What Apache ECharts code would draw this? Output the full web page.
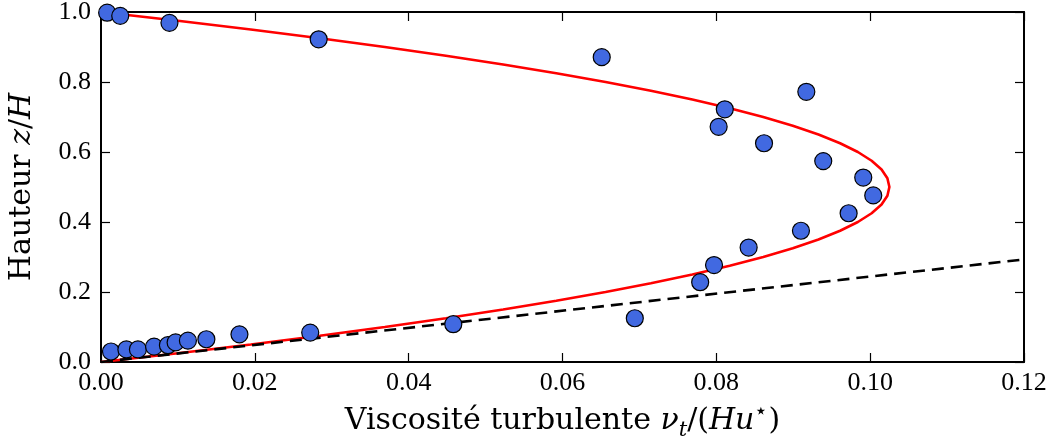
<!DOCTYPE html>
<html>
<head>
<meta charset="utf-8">
<script src="https://cdn.jsdelivr.net/npm/echarts@6/dist/echarts.min.js"></script>
<style>
html,body{margin:0;padding:0;background:#fff;}
#c{width:1051px;height:443px;}
</style>
</head>
<body>
<div id="c"></div>
<script>
// Measured points (nu_t/(H u*), z/H)
const measNu = [0.0008,0.0025,0.0089,0.0283,0.0651,0.0811,0.0803,0.0917,0.0862,0.0939,0.0991,0.1004,0.0972,0.0910,0.0842,0.0797,0.0779,0.0694,0.0458,0.0013,0.0033,0.0048,0.0069,0.0087,0.0097,0.0113,0.0137,0.0180,0.0272];
const measZ  = [0.998,0.989,0.969,0.922,0.871,0.722,0.672,0.772,0.625,0.574,0.527,0.476,0.425,0.375,0.327,0.277,0.228,0.125,0.108,0.030,0.036,0.036,0.044,0.048,0.056,0.061,0.065,0.079,0.084];

// Red parabolic profile, read along z/H
const curveZ  = [0,0.025,0.05,0.075,0.1,0.125,0.15,0.175,0.2,0.225,0.25,0.275,0.3,0.325,0.35,0.375,0.4,0.425,0.45,0.475,0.5,0.525,0.55,0.575,0.6,0.625,0.65,0.675,0.7,0.725,0.75,0.775,0.8,0.825,0.85,0.875,0.9,0.925,0.95,0.975,1.0];
const curveNu = [0,0.00999,0.01948,0.02844,0.0369,0.04484,0.05228,0.05919,0.0656,0.07149,0.07688,0.08174,0.0861,0.08994,0.09328,0.09609,0.0984,0.10019,0.10148,0.10224,0.1025,0.10224,0.10148,0.10019,0.0984,0.09609,0.09328,0.08994,0.0861,0.08174,0.07688,0.07149,0.0656,0.05919,0.05228,0.04484,0.0369,0.02844,0.01948,0.00999,0];

// Dashed near-wall line
const dashNu = [0, 0.12];
const dashZ  = [0, 0.293];

const xTicks = ['0.00','0.02','0.04','0.06','0.08','0.10','0.12'];
const yTicks = ['0.0','0.2','0.4','0.6','0.8','1.0'];

const FONT = '"Liberation Serif", "DejaVu Serif", serif';
const NFONT = '"DejaVu Serif", "Liberation Serif", serif';
const chart = echarts.init(document.getElementById('c'), null, {renderer:'canvas'});

const baseTick = {show:true, inside:true, length:9, lineStyle:{color:'#000', width:1.2}};
const baseLine = {show:true, onZero:false, lineStyle:{color:'#000', width:2}};

chart.setOption({
  backgroundColor:'#fff',
  animation:false,
  grid:{left:101, right:27, top:12, bottom:81, containLabel:false, outerBoundsMode:'none'},
  xAxis:[{
    type:'value', min:0, max:0.12, interval:0.02, position:'bottom',
    axisLine:baseLine, axisTick:baseTick, splitLine:{show:false},
    axisLabel:{color:'#000', fontFamily:FONT, fontSize:26, margin:8,
      formatter:(v)=>xTicks[Math.round(v/0.02)]},
    name:'Viscosité turbulente {i|ν}{sub|t}/({i|Hu}{sup|⋆})',
    nameLocation:'middle', nameGap:34,
    nameTextStyle:{color:'#000', fontFamily:NFONT, fontSize:30,
      rich:{
        i:{fontStyle:'italic', fontFamily:NFONT, fontSize:30, color:'#000'},
        sub:{fontStyle:'italic', fontFamily:NFONT, fontSize:21, color:'#000', lineHeight:14, verticalAlign:'bottom'},
        sup:{fontFamily:NFONT, fontSize:22, color:'#000', lineHeight:40, verticalAlign:'top'}
      }}
  },{
    type:'value', min:0, max:0.12, interval:0.02, position:'top',
    axisLine:baseLine, axisTick:baseTick, axisLabel:{show:false}, splitLine:{show:false}
  }],
  yAxis:[{
    type:'value', min:0, max:1, interval:0.2, position:'left',
    axisLine:baseLine, axisTick:baseTick, splitLine:{show:false},
    axisLabel:{color:'#000', fontFamily:FONT, fontSize:26, margin:10,
      formatter:(v)=>yTicks[Math.round(v/0.2)]},
    name:'Hauteur {i|z}/{i|H}',
    nameLocation:'middle', nameGap:64, nameRotate:90,
    nameTextStyle:{color:'#000', fontFamily:NFONT, fontSize:30,
      rich:{ i:{fontStyle:'italic', fontFamily:NFONT, fontSize:30, color:'#000'} }}
  },{
    type:'value', min:0, max:1, interval:0.2, position:'right',
    axisLine:baseLine, axisTick:baseTick, axisLabel:{show:false}, splitLine:{show:false}
  }],
  series:[
    {type:'line', xAxisIndex:0, yAxisIndex:0, showSymbol:false, symbol:'none', clip:true,
     data:curveZ.map((z,i)=>[curveNu[i], z]),
     lineStyle:{color:'#ff0000', width:2.6}, z:2},
    {type:'line', xAxisIndex:0, yAxisIndex:0, showSymbol:false, symbol:'none', clip:true,
     data:dashZ.map((z,i)=>[dashNu[i], z]),
     lineStyle:{color:'#000', width:2.6, type:[12,7]}, z:3},
    {type:'scatter', xAxisIndex:0, yAxisIndex:0, clip:true, symbolSize:17,
     data:measZ.map((z,i)=>[measNu[i], z]),
     itemStyle:{color:'#4169e1', borderColor:'#000', borderWidth:1.2, opacity:1}, z:4}
  ]
});
</script>
</body>
</html>
